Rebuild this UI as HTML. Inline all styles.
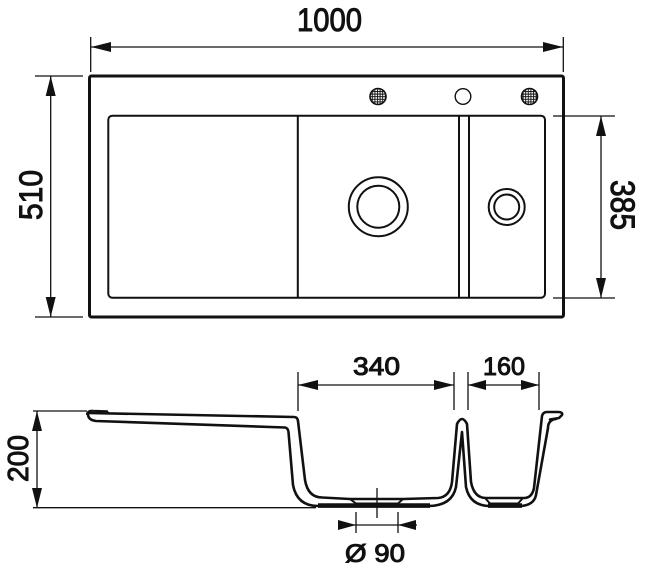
<!DOCTYPE html>
<html><head><meta charset="utf-8"><style>
html,body{margin:0;padding:0;background:#fff;}
svg{display:block;}
text{font-family:"Liberation Sans",sans-serif;font-weight:normal;fill:#111;stroke:#111;stroke-width:1.0;}
</style></head><body>
<svg width="650" height="573" viewBox="0 0 650 573" xmlns="http://www.w3.org/2000/svg">
<defs>
<pattern id="hatch" width="2.6" height="2.6" patternUnits="userSpaceOnUse">
<rect width="2.6" height="2.6" fill="#fff"/>
<path d="M0 0.5H2.6M0.5 0V2.6" stroke="#111" stroke-width="0.9"/>
</pattern>
</defs>

<!-- ===== TOP VIEW ===== -->
<rect x="89.5" y="76" width="474" height="241" rx="2" fill="none" stroke="#111" stroke-width="3"/>
<rect x="108.3" y="115.7" width="436.7" height="182" rx="4" fill="none" stroke="#111" stroke-width="2"/>
<line x1="297.8" y1="115.7" x2="297.8" y2="297.7" stroke="#111" stroke-width="2"/>
<line x1="459" y1="115.7" x2="459" y2="297.7" stroke="#111" stroke-width="2"/>
<line x1="469" y1="115.7" x2="469" y2="297.7" stroke="#111" stroke-width="2"/>

<!-- drains -->
<circle cx="378.3" cy="206.7" r="29.5" fill="none" stroke="#111" stroke-width="2"/>
<circle cx="378.3" cy="206.7" r="21" fill="none" stroke="#111" stroke-width="2"/>
<circle cx="506.7" cy="207" r="18" fill="none" stroke="#111" stroke-width="2"/>
<circle cx="506.7" cy="207" r="12.5" fill="none" stroke="#111" stroke-width="2"/>

<!-- tap holes -->
<circle cx="378" cy="96.5" r="8" fill="url(#hatch)" stroke="#111" stroke-width="1.6"/>
<circle cx="463" cy="96.5" r="7.8" fill="none" stroke="#111" stroke-width="1.4"/>
<circle cx="529.5" cy="96.5" r="8" fill="url(#hatch)" stroke="#111" stroke-width="1.6"/>

<!-- 1000 dimension -->
<g stroke="#111" stroke-width="1.3">
<line x1="91" y1="47" x2="563" y2="47"/>
<line x1="90.7" y1="37" x2="90.7" y2="72"/>
<line x1="563.3" y1="37" x2="563.3" y2="72"/>
</g>
<polygon points="91,47 111,42 111,52" fill="#111"/>
<polygon points="563,47 543,42 543,52" fill="#111"/>
<text x="329.5" y="31" font-size="32" text-anchor="middle" textLength="65" lengthAdjust="spacingAndGlyphs">1000</text>

<!-- 510 dimension -->
<g stroke="#111" stroke-width="1.3">
<line x1="50.7" y1="76" x2="50.7" y2="317"/>
<line x1="35" y1="76" x2="83" y2="76"/>
<line x1="35" y1="317" x2="83" y2="317"/>
</g>
<polygon points="50.7,76 45.7,96 55.7,96" fill="#111"/>
<polygon points="50.7,317 45.7,297 55.7,297" fill="#111"/>
<text transform="translate(42,195) rotate(-90)" font-size="32" text-anchor="middle" textLength="50" lengthAdjust="spacingAndGlyphs">510</text>

<!-- 385 dimension -->
<g stroke="#111" stroke-width="1.3">
<line x1="601" y1="116" x2="601" y2="298"/>
<line x1="553" y1="116" x2="615" y2="116"/>
<line x1="553" y1="298" x2="615" y2="298"/>
</g>
<polygon points="601,116 596,136 606,136" fill="#111"/>
<polygon points="601,298 596,278 606,278" fill="#111"/>
<text transform="translate(611,205) rotate(90)" font-size="34" text-anchor="middle" textLength="50" lengthAdjust="spacingAndGlyphs">385</text>

<!-- ===== SECTION VIEW ===== -->
<!-- 200 dimension -->
<g stroke="#111" stroke-width="1.3">
<line x1="37" y1="411" x2="37" y2="508"/>
<line x1="33" y1="411" x2="87" y2="411"/>
<line x1="33" y1="507.7" x2="316" y2="507.7"/>
</g>
<polygon points="37,411 32,431 42,431" fill="#111"/>
<polygon points="37,508 32,488 42,488" fill="#111"/>
<text transform="translate(28,458.5) rotate(-90)" font-size="29" text-anchor="middle" textLength="47" lengthAdjust="spacingAndGlyphs">200</text>

<!-- 340 dimension -->
<g stroke="#111" stroke-width="1.3">
<line x1="298" y1="385" x2="454" y2="385"/>
<line x1="298" y1="372" x2="298" y2="411"/>
<line x1="454" y1="372" x2="454" y2="410"/>
</g>
<polygon points="298,385 318,380 318,390" fill="#111"/>
<polygon points="454,385 434,380 434,390" fill="#111"/>
<text x="376.5" y="375" font-size="25" text-anchor="middle" textLength="47" lengthAdjust="spacingAndGlyphs">340</text>

<!-- 160 dimension -->
<g stroke="#111" stroke-width="1.3">
<line x1="468" y1="385" x2="539" y2="385"/>
<line x1="468" y1="372" x2="468" y2="410"/>
<line x1="539" y1="372" x2="539" y2="410"/>
</g>
<polygon points="468,385 486,380 486,390" fill="#111"/>
<polygon points="539,385 521,380 521,390" fill="#111"/>
<text x="504" y="375" font-size="25" text-anchor="middle" textLength="42" lengthAdjust="spacingAndGlyphs">160</text>

<!-- Ø90 dimension -->
<g stroke="#111" stroke-width="1.3">
<line x1="338" y1="525" x2="417" y2="525"/>
<line x1="356" y1="512" x2="356" y2="533"/>
<line x1="398" y1="512" x2="398" y2="533"/>
<line x1="377" y1="488" x2="377" y2="518"/>
</g>
<polygon points="356,525 338,520 338,530" fill="#111"/>
<polygon points="398,525 416,520 416,530" fill="#111"/>
<text x="375" y="562" font-size="25" text-anchor="middle" textLength="60" lengthAdjust="spacingAndGlyphs">Ø 90</text>

<!-- profile: upper/inner surface -->
<path d="M88 413 L294 417 Q297.5 417 298 421 L305 480 Q308 497.5 322 497.5 L350 499 L403 499 L438 498 Q450 497 452 482 L457 424 Q462 414 467 424 L471 482 Q474 498 486 498 L524 498 Q532 498 534 488 L542 416 Q543 412 547 412 L558 412 Q563 412 562 415 L559 418 L550 419.5"
 fill="none" stroke="#111" stroke-width="2.6" stroke-linejoin="round" stroke-linecap="round"/>
<!-- profile: lower/outer surface -->
<path d="M88 414 Q88 420 96 421 L285 427.5 Q288 428 288.5 432 L293 485 Q297 506 318 506 L428 506 Q452 506 456 487 L462 432 L466 487 Q470 506 490 506 L521 506 Q534 505 536 495 L548 428 Q548 420 556 419"
 fill="none" stroke="#111" stroke-width="2.6" stroke-linejoin="round" stroke-linecap="round"/>
<!-- left lip blob -->
<path d="M87 414 Q88 410.5 93 410.8 L107 411.3 L108 413" fill="none" stroke="#111" stroke-width="2.2" stroke-linecap="round"/>
<!-- thick bottoms -->
<line x1="318" y1="505.6" x2="430" y2="505.6" stroke="#111" stroke-width="4.6"/>
<line x1="488" y1="505.6" x2="522" y2="505.6" stroke="#111" stroke-width="4.6"/>
<!-- drain recesses -->
<path d="M350 499 L356 503.5 L398 503.5 L403 499" fill="none" stroke="#111" stroke-width="2"/>
<path d="M485 498 L490 503.5 L518 503.5 L523 498" fill="none" stroke="#111" stroke-width="2"/>
</svg>
</body></html>
